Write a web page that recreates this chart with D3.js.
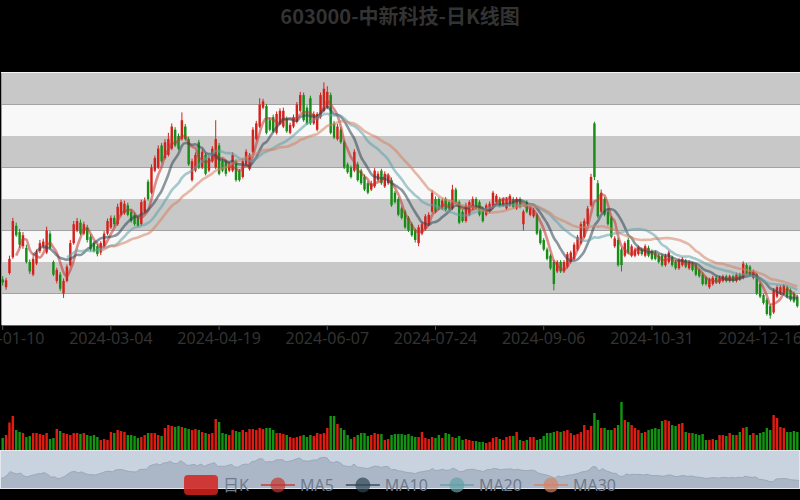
<!DOCTYPE html>
<html>
<head>
<meta charset="utf-8">
<script src="https://cdn.jsdelivr.net/npm/d3@7/dist/d3.min.js"></script>
<style>
  html, body { margin: 0; padding: 0; background: #000; }
  svg { display: block; }
</style>
</head>
<body>
<svg id="chart" width="800" height="500"></svg>
<script>
// ---- data ----
const titleText = "603000-中新科技-日K线图";

const dates = [
  "2024-01-10","2024-01-11","2024-01-12","2024-01-15","2024-01-16","2024-01-17","2024-01-18","2024-01-19","2024-01-22","2024-01-23","2024-01-24","2024-01-25","2024-01-26","2024-01-29","2024-01-30","2024-01-31",
  "2024-02-01","2024-02-02","2024-02-05","2024-02-06","2024-02-07","2024-02-08","2024-02-19","2024-02-20","2024-02-21","2024-02-22","2024-02-23","2024-02-26","2024-02-27","2024-02-28","2024-02-29",
  "2024-03-01","2024-03-04","2024-03-05","2024-03-06","2024-03-07","2024-03-08","2024-03-11","2024-03-12","2024-03-13","2024-03-14","2024-03-15","2024-03-18","2024-03-19","2024-03-20","2024-03-21","2024-03-22","2024-03-25","2024-03-26","2024-03-27","2024-03-28","2024-03-29",
  "2024-04-01","2024-04-02","2024-04-03","2024-04-08","2024-04-09","2024-04-10","2024-04-11","2024-04-12","2024-04-15","2024-04-16","2024-04-17","2024-04-18","2024-04-19","2024-04-22","2024-04-23","2024-04-24","2024-04-25","2024-04-26","2024-04-29","2024-04-30",
  "2024-05-06","2024-05-07","2024-05-08","2024-05-09","2024-05-10","2024-05-13","2024-05-14","2024-05-15","2024-05-16","2024-05-17","2024-05-20","2024-05-21","2024-05-22","2024-05-23","2024-05-24","2024-05-27","2024-05-28","2024-05-29","2024-05-30","2024-05-31",
  "2024-06-03","2024-06-04","2024-06-05","2024-06-06","2024-06-07","2024-06-11","2024-06-12","2024-06-13","2024-06-14","2024-06-17","2024-06-18","2024-06-19","2024-06-20","2024-06-21","2024-06-24","2024-06-25","2024-06-26","2024-06-27","2024-06-28",
  "2024-07-01","2024-07-02","2024-07-03","2024-07-04","2024-07-05","2024-07-08","2024-07-09","2024-07-10","2024-07-11","2024-07-12","2024-07-15","2024-07-16","2024-07-17","2024-07-18","2024-07-19","2024-07-22","2024-07-23","2024-07-24","2024-07-25","2024-07-26","2024-07-29","2024-07-30","2024-07-31",
  "2024-08-01","2024-08-02","2024-08-05","2024-08-06","2024-08-07","2024-08-08","2024-08-09","2024-08-12","2024-08-13","2024-08-14","2024-08-15","2024-08-16","2024-08-19","2024-08-20","2024-08-21","2024-08-22","2024-08-23","2024-08-26","2024-08-27","2024-08-28","2024-08-29","2024-08-30",
  "2024-09-02","2024-09-03","2024-09-04","2024-09-05","2024-09-06","2024-09-09","2024-09-10","2024-09-11","2024-09-12","2024-09-13","2024-09-18","2024-09-19","2024-09-20","2024-09-23","2024-09-24","2024-09-25","2024-09-26","2024-09-27","2024-09-30",
  "2024-10-08","2024-10-09","2024-10-10","2024-10-11","2024-10-14","2024-10-15","2024-10-16","2024-10-17","2024-10-18","2024-10-21","2024-10-22","2024-10-23","2024-10-24","2024-10-25","2024-10-28","2024-10-29","2024-10-30","2024-10-31",
  "2024-11-01","2024-11-04","2024-11-05","2024-11-06","2024-11-07","2024-11-08","2024-11-11","2024-11-12","2024-11-13","2024-11-14","2024-11-15","2024-11-18","2024-11-19","2024-11-20","2024-11-21","2024-11-22","2024-11-25","2024-11-26","2024-11-27","2024-11-28","2024-11-29",
  "2024-12-02","2024-12-03","2024-12-04","2024-12-05","2024-12-06","2024-12-09","2024-12-10","2024-12-11","2024-12-12","2024-12-13","2024-12-16","2024-12-17","2024-12-18","2024-12-19","2024-12-20","2024-12-23","2024-12-24","2024-12-25","2024-12-26","2024-12-27","2024-12-30","2024-12-31"
];

const openPrices = [
  7.45,7.20,7.65,8.15,9.15,8.95,8.50,8.45,8.00,7.60,
  7.95,8.35,8.50,8.30,8.90,
  8.00,7.40,7.60,7.00,
  7.40,7.90,8.60,9.00,9.25,8.90,9.10,8.80,8.60,8.50,
  8.30,8.50,8.90,9.10,9.40,9.20,9.50,9.55,9.80,9.60,
  9.50,9.40,9.20,9.60,10.55,10.20,
  10.90,11.00,11.70,
  11.30,11.40,11.60,12.20,12.00,11.90,12.30,11.90,10.60,10.90,
  11.80,11.00,11.40,10.90,11.20,11.00,11.70,11.20,11.20,10.90,
  10.90,11.20,10.90,10.70,
  11.10,10.95,11.50,11.90,12.30,
  12.90,12.95,12.50,12.60,12.10,12.40,12.30,12.55,12.10,12.30,
  12.45,12.80,13.30,12.90,13.20,12.40,12.20,12.60,12.80,12.90,
  13.30,12.40,11.90,12.20,11.80,11.10,11.00,10.90,
  11.10,
  10.90,10.70,10.50,10.30,10.40,10.60,10.90,10.40,10.50,10.60,
  10.20,10.00,9.70,9.60,9.40,9.20,9.00,8.60,8.90,9.05,
  9.20,9.60,10.00,10.00,9.70,10.00,9.90,9.70,10.30,
  9.90,9.60,9.30,9.50,9.70,10.00,9.90,9.70,9.50,9.60,
  9.75,9.90,10.00,9.80,9.70,9.80,10.00,9.70,10.00,9.20,
  9.90,9.50,9.45,9.50,9.00,8.70,8.40,8.20,8.00,7.70,
  8.00,7.70,7.85,8.00,8.10,8.40,8.60,8.80,9.20,
  9.80,12.40,10.50,9.60,10.00,9.60,9.40,8.50,8.70,8.40,
  8.20,8.70,8.20,8.20,8.25,8.40,8.20,8.45,8.35,8.30,
  8.20,
  8.20,7.90,8.00,8.15,8.00,7.80,7.90,8.05,
  7.80,7.95,7.90,7.75,7.60,7.50,7.20,7.30,7.50,7.35,
  7.40,7.55,7.40,7.55,7.40,7.60,7.50,7.90,7.85,7.50,
  7.60,7.30,
  6.95,6.80,6.60,6.40,6.90,7.00,7.00,7.20,7.10,7.00,6.90
];

const closePrices = [
  7.35,7.42,8.10,9.30,8.85,8.55,8.85,8.00,7.70,8.10,
  8.30,8.60,8.65,9.00,8.45,
  7.60,7.75,7.15,7.40,
  7.85,8.60,9.20,9.30,8.90,9.20,8.70,8.40,8.35,8.25,
  8.60,8.90,9.30,9.40,9.20,9.75,9.90,9.85,9.50,9.30,
  9.20,9.15,9.90,9.95,10.00,11.00,
  11.30,11.60,11.20,
  11.80,11.90,12.30,11.70,11.60,12.50,11.90,11.10,11.20,11.40,
  11.00,11.50,10.80,11.30,11.60,11.90,10.80,10.90,10.80,11.10,
  11.40,10.60,10.60,11.20,
  11.50,11.40,12.20,12.40,13.00,
  13.10,12.10,12.20,12.15,12.70,12.80,12.80,12.15,12.35,12.60,
  13.00,13.30,12.50,12.40,12.40,12.70,12.70,13.30,13.50,13.40,
  12.10,11.95,12.30,11.80,11.00,10.85,10.70,11.50,
  10.60,
  10.50,10.30,10.20,10.50,10.90,10.80,10.50,10.80,10.75,9.80,
  9.90,9.50,9.40,9.10,9.00,8.85,8.70,9.10,9.20,9.45,
  9.50,10.20,9.60,9.70,9.95,9.65,9.70,10.30,9.90,
  9.25,9.30,9.80,9.90,10.00,9.70,9.50,9.30,9.80,9.85,
  10.20,10.10,9.80,10.00,10.00,10.10,9.75,10.00,9.75,9.60,
  9.60,9.70,9.65,8.90,8.60,8.40,8.10,7.80,7.30,8.00,
  7.70,8.00,8.25,8.30,8.55,8.80,9.20,9.30,9.70,
  10.70,10.70,9.45,10.20,9.50,9.20,8.80,8.75,7.90,7.90,
  8.60,8.30,8.50,8.40,8.45,8.25,8.50,8.20,8.10,8.10,
  8.00,
  7.90,8.20,8.30,7.90,7.80,8.05,8.10,7.85,
  8.00,7.75,7.60,7.55,7.30,7.30,7.45,7.50,7.35,7.50,
  7.55,7.40,7.55,7.40,7.60,7.45,7.95,7.65,7.60,7.70,
  7.00,6.90,
  6.70,6.35,6.30,7.10,7.20,7.20,7.25,6.90,6.80,6.75,6.60
];

const lowPrices = [
  7.25,7.12,7.60,8.10,8.80,8.45,8.42,7.95,7.62,7.55,
  7.90,8.28,8.42,8.25,8.40,
  7.55,7.32,7.08,6.86,
  7.35,7.85,8.55,8.95,8.85,8.85,8.62,8.35,8.30,8.18,
  8.22,8.45,8.85,9.05,9.12,9.15,9.45,9.50,9.45,9.25,
  9.15,9.10,9.15,9.55,9.95,10.15,
  10.85,10.95,11.15,
  11.25,11.35,11.55,11.65,11.55,11.85,11.85,11.05,10.55,10.85,
  10.95,10.95,10.75,10.85,11.15,10.95,10.75,10.85,10.72,10.85,
  10.85,10.55,10.55,10.65,
  11.05,10.90,11.45,11.85,12.25,
  12.85,12.05,12.15,12.10,12.05,12.35,12.25,12.10,12.05,12.25,
  12.40,12.75,12.45,12.35,12.35,12.35,12.15,12.55,12.75,12.85,
  12.05,11.90,11.85,11.75,10.95,10.80,10.65,10.85,
  10.55,
  10.45,10.25,10.15,10.25,10.35,10.55,10.45,10.35,10.45,9.75,
  9.85,9.45,9.35,9.05,8.95,8.80,8.62,8.50,8.85,9.00,
  9.15,9.55,9.55,9.65,9.65,9.60,9.65,9.65,9.85,
  9.20,9.25,9.25,9.45,9.65,9.65,9.45,9.25,9.45,9.55,
  9.70,9.85,9.75,9.75,9.65,9.75,9.70,9.65,9.70,9.00,
  9.55,9.45,9.40,8.85,8.55,8.35,8.05,7.75,7.10,7.65,
  7.65,7.65,7.80,7.95,8.05,8.35,8.55,8.75,9.15,
  9.75,10.60,9.40,9.55,9.45,9.15,8.75,8.45,7.85,7.70,
  8.15,8.25,8.15,8.15,8.20,8.20,8.15,8.15,8.05,8.05,
  7.95,
  7.85,7.85,7.95,7.85,7.75,7.75,7.85,7.80,
  7.75,7.70,7.55,7.50,7.25,7.25,7.15,7.25,7.30,7.30,
  7.35,7.35,7.35,7.35,7.35,7.40,7.45,7.60,7.55,7.45,
  6.95,6.85,
  6.65,6.30,6.20,6.35,6.85,6.95,6.95,6.85,6.75,6.70,6.55
];

const highPrices = [
  7.55,7.50,8.20,9.40,9.25,9.05,8.95,8.55,8.08,8.18,
  8.40,8.70,8.74,9.12,8.98,
  8.05,7.82,7.68,7.48,
  7.92,8.70,9.30,9.40,9.35,9.28,9.18,8.88,8.66,8.56,
  8.66,8.98,9.38,9.48,9.48,9.85,9.98,9.95,9.88,9.68,
  9.56,9.46,9.98,10.05,10.62,11.10,
  11.38,11.70,11.78,
  11.90,12.10,12.40,12.28,12.08,12.75,12.38,11.98,11.28,11.48,
  11.88,11.58,11.46,11.38,11.68,12.50,11.78,11.28,11.26,11.18,
  11.48,11.26,10.96,11.28,
  11.58,11.46,12.28,12.48,13.20,
  13.18,13.02,12.58,12.68,12.78,12.88,12.90,12.62,12.42,12.68,
  13.08,13.40,13.38,12.98,13.28,12.78,12.76,13.38,13.70,13.58,
  13.38,12.48,12.38,12.28,11.86,11.16,11.06,11.58,
  11.18,
  10.96,10.78,10.56,10.58,10.98,10.88,10.96,10.88,10.82,10.68,
  10.26,10.06,9.76,9.66,9.46,9.26,9.06,9.18,9.28,9.52,
  9.58,10.28,10.08,10.06,10.02,10.06,9.96,10.45,10.36,
  9.96,9.66,9.88,9.96,10.08,10.06,9.96,9.76,9.86,9.92,
  10.26,10.16,10.06,10.06,10.06,10.16,10.06,10.06,10.06,9.66,
  9.96,9.76,9.72,9.56,9.06,8.76,8.46,8.26,8.06,8.06,
  8.06,8.06,8.32,8.36,8.62,8.86,9.28,9.38,9.78,
  10.80,12.45,10.60,10.30,10.06,9.70,9.46,8.82,8.76,8.46,
  8.66,8.76,8.56,8.46,8.52,8.46,8.56,8.52,8.40,8.36,
  8.26,
  8.26,8.26,8.36,8.20,8.06,8.12,8.16,8.10,
  8.06,8.00,7.96,7.80,7.66,7.56,7.50,7.56,7.56,7.56,
  7.60,7.60,7.60,7.60,7.66,7.66,8.02,7.96,7.90,7.76,
  7.66,7.36,
  7.00,6.86,6.66,7.16,7.26,7.26,7.30,7.26,7.16,7.06,6.96
];

const volumes = [
  24,30,55,68,40,36,34,26,28,34,
  34,32,30,34,22,
  24,42,38,34,
  32,30,34,34,32,34,30,28,30,26,
  20,22,20,36,34,40,38,36,30,30,
  28,24,26,30,34,34,
  34,30,28,
  44,50,48,46,48,46,44,42,40,42,
  40,36,34,32,34,62,56,34,32,30,
  40,38,36,40,
  36,42,42,40,44,
  42,44,44,40,34,34,32,30,26,24,
  26,28,30,26,30,28,34,32,34,44,
  68,68,52,44,40,30,22,26,
  30,
  34,34,28,30,34,32,32,20,22,30,
  32,32,32,30,32,28,26,26,36,24,
  22,26,24,30,24,34,32,26,24,
  28,20,22,20,18,18,16,16,14,16,
  24,26,22,20,26,28,28,36,20,18,
  20,26,26,20,22,28,34,34,36,38,
  36,38,40,34,30,32,36,50,40,
  48,74,60,44,44,40,40,44,50,96,
  60,56,50,44,40,34,36,40,42,44,
  42,
  58,60,58,50,48,52,54,36,
  34,34,32,30,32,20,20,22,20,30,
  30,28,34,30,30,36,44,46,30,34,
  30,34,
  36,44,40,70,64,46,44,36,36,38,36
];

const priceTicks = [6, 7, 8, 9, 10, 11, 12, 13, 14];
const volumeDomain = [0, 100];
const maPeriods = [5, 10, 20, 30];
const legendNames = ["日K", "MA5", "MA10", "MA20", "MA30"];
const labelEvery = 32;

// ---- look ----
const upColor = "#d3221c", downColor = "#178c17";
const volUp = "#e01b10", volDown = "#129312";
const maColors = ["#c23531", "#2f4554", "#61a0a8", "#d48265"];
const stripeLight = "#f8f8f8", stripeDark = "#c8c8c8";

const svg = d3.select("#chart");
const W = 800, H = 500;
const plot = { left: 1, right: 799, top: 73, bottom: 325 };
const vol = { top: 400, bottom: 450 };
const slider = { left: 0, right: 800, top: 450, bottom: 489 };

const x = d3.scaleBand().domain(dates).range([plot.left, plot.right]).padding(0);
const bw = x.bandwidth();
const cx = d => x(d) + bw / 2;
const y = d3.scaleLinear().domain([priceTicks[0], priceTicks[priceTicks.length - 1]]).range([plot.bottom, plot.top]);
const yVol = d3.scaleLinear().domain(volumeDomain).range([vol.bottom, vol.top]);

const rows = dates.map((d, i) => ({
  date: d, open: openPrices[i], close: closePrices[i],
  low: lowPrices[i], high: highPrices[i], volume: volumes[i]
}));

// title
svg.append("text")
  .attr("x", W / 2).attr("y", 24)
  .attr("text-anchor", "middle")
  .attr("font-family", "'Noto Sans CJK SC', 'Noto Sans', sans-serif")
  .attr("font-weight", "bold")
  .attr("font-size", 20)
  .attr("fill", "#333")
  .text(titleText);

// alternating split areas between price ticks
const bands = d3.pairs(priceTicks);
svg.append("g").selectAll("rect").data(bands).join("rect")
  .attr("x", plot.left).attr("width", W - plot.left)
  .attr("y", d => y(d[1])).attr("height", d => y(d[0]) - y(d[1]))
  .attr("fill", (d, i) => i % 2 === 0 ? stripeLight : stripeDark);

svg.append("line")
  .attr("x1", plot.left).attr("x2", W)
  .attr("y1", plot.top - 0.5).attr("y2", plot.top - 0.5)
  .attr("stroke", "#f2f2f2");
svg.append("line")
  .attr("x1", plot.left + 0.5).attr("x2", plot.left + 0.5)
  .attr("y1", plot.top).attr("y2", plot.bottom)
  .attr("stroke", "#9a9a9a");

// candlesticks
const bodyW = Math.max(1, bw * 0.72);
const candles = svg.append("g").selectAll("g").data(rows).join("g");
candles.append("line")
  .attr("x1", d => cx(d.date)).attr("x2", d => cx(d.date))
  .attr("y1", d => y(d.high)).attr("y2", d => y(d.low))
  .attr("stroke", d => d.close >= d.open ? upColor : downColor)
  .attr("stroke-width", 1);
candles.append("rect")
  .attr("x", d => cx(d.date) - bodyW / 2)
  .attr("width", bodyW)
  .attr("y", d => y(Math.max(d.open, d.close)))
  .attr("height", d => Math.max(1, Math.abs(y(d.open) - y(d.close))))
  .attr("fill", d => d.close >= d.open ? upColor : downColor);

// moving averages of the close
function movingAverage(n) {
  return closePrices.map((c, i) => {
    if (i < n - 1) return null;
    let s = 0;
    for (let k = i - n + 1; k <= i; k++) s += closePrices[k];
    return s / n;
  });
}
svg.append("clipPath").attr("id", "plotClip").append("rect")
  .attr("x", plot.left).attr("y", plot.top)
  .attr("width", W - plot.left).attr("height", plot.bottom - plot.top);

const maGroup = svg.append("g").attr("clip-path", "url(#plotClip)");
maPeriods.forEach((n, k) => {
  const vals = movingAverage(n);
  const line = d3.line()
    .defined(v => v[1] != null)
    .x(v => cx(v[0]))
    .y(v => y(v[1]))
    .curve(d3.curveMonotoneX);
  maGroup.append("path")
    .datum(dates.map((d, i) => [d, vals[i]]))
    .attr("d", line)
    .attr("fill", "none")
    .attr("stroke", maColors[k])
    .attr("stroke-width", 2.6)
    .attr("stroke-opacity", 0.55)
    .attr("stroke-linejoin", "round");
});

// category axis
const tickDates = dates.filter((d, i) => i % labelEvery === 0);
const xAxis = svg.append("g")
  .attr("transform", `translate(0,${plot.bottom})`)
  .call(d3.axisBottom(x).tickValues(tickDates).tickSizeInner(5).tickSizeOuter(0).tickPadding(3));
xAxis.select(".domain").attr("stroke", "#666");
xAxis.selectAll(".tick line").attr("stroke", "#555");
xAxis.selectAll(".tick text")
  .attr("fill", "#333")
  .attr("font-size", 16)
  .attr("font-family", "'Noto Sans', sans-serif");

// volume bars
svg.append("g").selectAll("rect").data(rows).join("rect")
  .attr("x", d => cx(d.date) - bodyW / 2)
  .attr("width", bodyW)
  .attr("y", d => yVol(d.volume))
  .attr("height", d => yVol(0) - yVol(d.volume))
  .attr("fill", d => d.close >= d.open ? volUp : volDown);

// zoom slider with a shadow of the close series
svg.append("rect")
  .attr("x", slider.left).attr("y", slider.top)
  .attr("width", slider.right - slider.left).attr("height", slider.bottom - slider.top)
  .attr("fill", "#c9d3df");
const ext = d3.extent(closePrices);
const pad = (ext[1] - ext[0]) * 0.3;
const sx = d3.scaleLinear().domain([0, dates.length - 1]).range([slider.left, slider.right]);
const sy = d3.scaleLinear().domain([ext[0] - pad, ext[1] + pad]).range([slider.bottom, slider.top]);
svg.append("path")
  .datum(closePrices)
  .attr("d", d3.area().x((v, i) => sx(i)).y0(slider.bottom).y1(v => sy(v)))
  .attr("fill", "#abb7c7");
svg.append("path")
  .datum(closePrices)
  .attr("d", d3.line().x((v, i) => sx(i)).y(v => sy(v)))
  .attr("fill", "none")
  .attr("stroke", "#9aa8ba")
  .attr("stroke-width", 1);
svg.append("rect")
  .attr("x", slider.left + 0.5).attr("y", slider.top + 0.5)
  .attr("width", slider.right - slider.left - 1).attr("height", slider.bottom - slider.top - 1)
  .attr("fill", "none")
  .attr("stroke", "#e4e9ef");

// legend
const legendY = 485;
const itemW = 34, itemH = 20, textGap = 5, itemGap = 12;
const legend = svg.append("g");
const items = legendNames.map((name, k) => {
  const g = legend.append("g");
  if (k === 0) {
    g.append("rect")
      .attr("x", 0).attr("y", legendY - itemH / 2)
      .attr("width", itemW).attr("height", itemH)
      .attr("rx", 4)
      .attr("fill", upColor).attr("fill-opacity", 0.85);
  } else {
    const c = maColors[k - 1];
    g.append("line")
      .attr("x1", 0).attr("x2", itemW)
      .attr("y1", legendY).attr("y2", legendY)
      .attr("stroke", c).attr("stroke-width", 2).attr("stroke-opacity", 0.7);
    g.append("circle")
      .attr("cx", itemW / 2).attr("cy", legendY).attr("r", 7.5)
      .attr("fill", c).attr("fill-opacity", 0.7);
  }
  const t = g.append("text")
    .attr("x", itemW + textGap).attr("y", legendY)
    .attr("dy", "0.35em")
    .attr("font-size", 16)
    .attr("font-family", "'Noto Sans', 'Noto Sans CJK SC', sans-serif")
    .attr("fill", "#6f7b8d")
    .text(name);
  return { g, w: itemW + textGap + t.node().getComputedTextLength() };
});
const total = d3.sum(items, d => d.w) + itemGap * (items.length - 1);
let lx = W / 2 - total / 2;
items.forEach(it => {
  it.g.attr("transform", `translate(${lx},0)`);
  lx += it.w + itemGap;
});
</script>
</body>
</html>
